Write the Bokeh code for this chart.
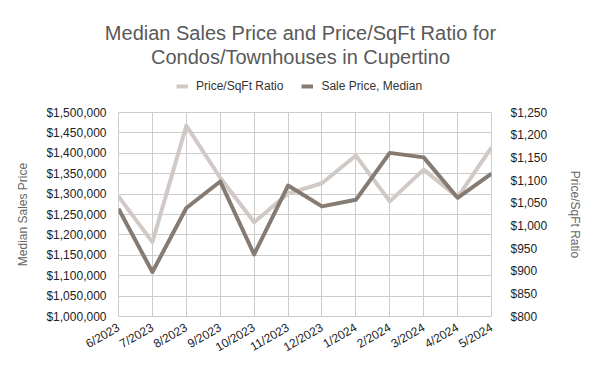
import math
from bokeh.plotting import figure
from bokeh.layouts import column
from bokeh.models import (Range1d, LinearAxis, FixedTicker, NumeralTickFormatter,
                          Label, Legend, LegendItem)
from bokeh.embed import file_html
from bokeh.resources import INLINE

months = ["6/2023", "7/2023", "8/2023", "9/2023", "10/2023", "11/2023",
          "12/2023", "1/2024", "2/2024", "3/2024", "4/2024", "5/2024"]
price_sqft = [1065, 964, 1221, 1106, 1008, 1071, 1094, 1155, 1054, 1124, 1063, 1173]
median_price = [1264000, 1109000, 1266000, 1331000, 1152000, 1321000,
                1270000, 1286000, 1401000, 1390000, 1291000, 1350000]
left_ticks = list(range(1000000, 1500001, 50000))
right_ticks = list(range(800, 1251, 50))
title_lines = ["Median Sales Price and Price/SqFt Ratio for",
               "Condos/Townhouses in Cupertino"]
series_names = ["Price/SqFt Ratio", "Sale Price, Median"]

FONT = "Liberation Sans"
LIGHT = "#d0c9c5"
DARK = "#857b73"
GRID = "#cccccc"
W = 592
HEAD_H = 104

x = list(range(len(months)))

# ---------- header: title + legend ----------
h = figure(width=W, height=HEAD_H, output_backend="svg", toolbar_location=None,
           x_range=Range1d(0, W), y_range=Range1d(0, HEAD_H),
           min_border=0, title=None)
h.frame_align = False
h.axis.visible = False
h.grid.visible = False
h.outline_line_color = None
for txt, yy in zip(title_lines, [72, 48]):
    h.add_layout(Label(x=300, y=yy, text=txt, text_align="center",
                       text_baseline="middle", text_font=FONT,
                       text_font_size="20px", text_color="#595959"))
# legend proxies (single point -> no visible line in the header)
d1 = h.line([0], [0], line_color=LIGHT, line_width=4)
d2 = h.line([0], [0], line_color=DARK, line_width=4)
legend = Legend(items=[LegendItem(label=series_names[0], renderers=[d1]),
                       LegendItem(label=series_names[1], renderers=[d2])],
                orientation="horizontal", location=(176, 11))
legend.label_text_font = FONT
legend.label_text_font_size = "12px"
legend.label_text_color = "#333333"
legend.border_line_color = None
legend.background_fill_alpha = 0
legend.glyph_width = 12
legend.glyph_height = 12
legend.label_standoff = 8
legend.spacing = 18
legend.padding = 4
legend.margin = 0
h.add_layout(legend, "center")

# ---------- main chart ----------
p = figure(width=W, height=259, title=None, output_backend="svg",
           toolbar_location=None,
           x_range=Range1d(0, len(months) - 1),
           y_range=Range1d(left_ticks[0], left_ticks[-1]),
           min_border_left=118, min_border_right=101,
           min_border_top=8, min_border_bottom=47)
p.frame_align = False
p.extra_y_ranges = {"psf": Range1d(right_ticks[0], right_ticks[-1])}

p.outline_line_color = GRID
p.background_fill_color = "white"
p.border_fill_color = "white"

# x axis
p.xaxis.ticker = FixedTicker(ticks=x)
p.xaxis.major_label_overrides = {i: m for i, m in zip(x, months)}
p.xaxis.major_label_orientation = math.pi / 6
p.xaxis.axis_line_color = None
p.xaxis.major_tick_line_color = None
p.xaxis.minor_tick_line_color = None
p.xaxis.major_label_text_font = FONT
p.xaxis.major_label_text_font_size = "12px"
p.xaxis.major_label_text_color = "#222222"
p.xaxis.major_label_standoff = 4

# left axis
p.yaxis.ticker = FixedTicker(ticks=left_ticks)
p.yaxis.formatter = NumeralTickFormatter(format="$0,0")
p.yaxis.axis_line_color = None
p.yaxis.major_tick_line_color = None
p.yaxis.minor_tick_line_color = None
p.yaxis.major_label_text_font = FONT
p.yaxis.major_label_text_font_size = "12px"
p.yaxis.major_label_text_color = "#222222"
p.yaxis.major_label_standoff = 6
p.yaxis.axis_label = "Median Sales Price"
p.yaxis.axis_label_text_font = FONT
p.yaxis.axis_label_text_font_size = "12px"
p.yaxis.axis_label_text_font_style = "normal"
p.yaxis.axis_label_text_color = "#666666"
p.yaxis.axis_label_standoff = 13

# right axis
ra = LinearAxis(y_range_name="psf", ticker=FixedTicker(ticks=right_ticks),
                formatter=NumeralTickFormatter(format="$0,0"),
                axis_label="Price/SqFt Ratio")
ra.axis_line_color = None
ra.major_tick_line_color = None
ra.minor_tick_line_color = None
ra.major_label_text_font = FONT
ra.major_label_text_font_size = "12px"
ra.major_label_text_color = "#222222"
ra.major_label_standoff = 13
ra.axis_label_text_font = FONT
ra.axis_label_text_font_size = "12px"
ra.axis_label_text_font_style = "normal"
ra.axis_label_text_color = "#666666"
ra.axis_label_standoff = 18
p.add_layout(ra, "right")

p.xgrid.grid_line_color = GRID
p.ygrid.grid_line_color = GRID
p.xgrid.ticker = FixedTicker(ticks=x)
p.ygrid.ticker = FixedTicker(ticks=left_ticks)

p.line(x, price_sqft, y_range_name="psf", line_color=LIGHT, line_width=4,
       line_join="round")
p.line(x, median_price, line_color=DARK, line_width=4, line_join="round")

layout = column(h, p, spacing=0)
open("out.html", "w").write(file_html(layout, INLINE))
